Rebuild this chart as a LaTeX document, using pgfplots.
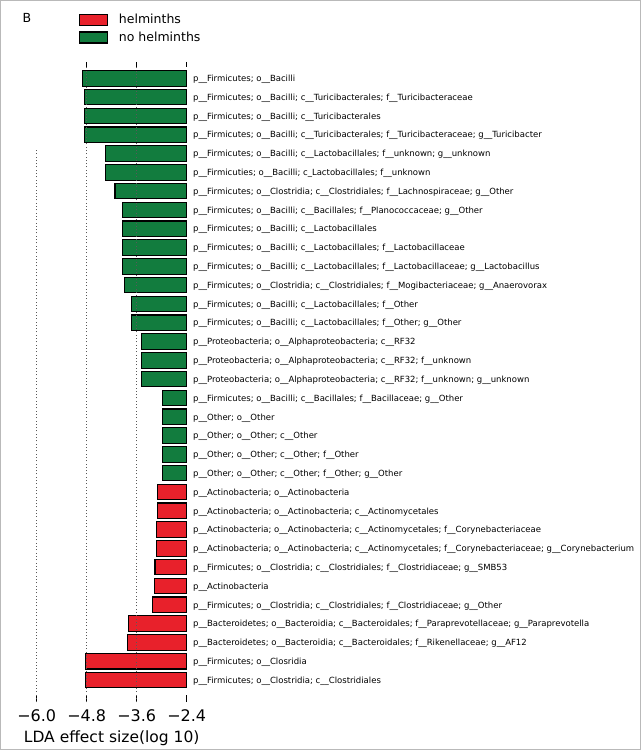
\documentclass[border=0pt]{standalone}
\usepackage{pgfplots}
\pgfplotsset{compat=1.18}
\usepackage{pgfplotstable}
\usepackage{fontspec}
\setmainfont{DejaVu Sans}
\usetikzlibrary{calc}
\definecolor{hred}{HTML}{E8212B}
\definecolor{hgreen}{HTML}{127C3E}

% LDA scores, bars numbered from the bottom (y=1) to the top (y=33)
\pgfplotstableread[col sep=comma]{
y,lda
12,-2.97
13,-2.98
14,-2.98
15,-2.98
16,-2.98
17,-3.49
18,-3.49
19,-3.49
20,-3.72
21,-3.72
22,-3.90
23,-3.93
24,-3.93
25,-3.94
26,-3.95
27,-4.12
28,-4.34
29,-4.34
30,-4.85
31,-4.85
32,-4.85
33,-4.90
}\nohelm

\pgfplotstableread[col sep=comma]{
y,lda
1,-4.82
2,-4.82
3,-3.83
4,-3.79
5,-3.23
6,-3.18
7,-3.16
8,-3.13
9,-3.13
10,-3.11
11,-3.09
}\helm

\tikzset{gridline/.style={black!65, line width=0.8pt, dash pattern=on 0.9pt off 2.4pt}}

\begin{document}
\begin{tikzpicture}
\begin{axis}[
    scale only axis,
    width=150pt, height=640pt,
    xmin=-3.6, xmax=0, ymin=-0.17, ymax=33.87,
    axis x line*=bottom, axis y line*=right,
    axis line style={draw=none},
    clip=false,
    tick align=inside,
    major tick length=7pt,
    xtick={-3.6,-2.4,-1.2,0},
    xticklabels={−6.0,−4.8,−3.6,−2.4},
    xtick style={black, line width=0.7pt},
    xticklabel style={font=\fontsize{16}{16}\selectfont, yshift=-4pt},
    xlabel={LDA effect size(log 10)},
    xlabel style={font=\fontsize{15.5}{16}\selectfont, yshift=-2pt},
    ytick={1,...,33},
    ytick style={draw=none},
    yticklabel style={anchor=west, inner sep=0pt, xshift=6.3pt, yshift=-1pt, font=\fontsize{8.5}{10}\selectfont},
    yticklabels={
      p\_\_Firmicutes; o\_\_Clostridia; c\_\_Clostridiales,
      p\_\_Firmicutes; o\_\_Closridia,
      p\_\_Bacteroidetes; o\_\_Bacteroidia; c\_\_Bacteroidales; f\_\_Rikenellaceae; g\_\_AF12,
      p\_\_Bacteroidetes; o\_\_Bacteroidia; c\_\_Bacteroidales; f\_\_Paraprevotellaceae; g\_\_Paraprevotella,
      p\_\_Firmicutes; o\_\_Clostridia; c\_\_Clostridiales; f\_\_Clostridiaceae; g\_\_Other,
      p\_\_Actinobacteria,
      p\_\_Firmicutes; o\_\_Clostridia; c\_\_Clostridiales; f\_\_Clostridiaceae; g\_\_SMB53,
      p\_\_Actinobacteria; o\_\_Actinobacteria; c\_\_Actinomycetales; f\_\_Corynebacteriaceae; g\_\_Corynebacterium,
      p\_\_Actinobacteria; o\_\_Actinobacteria; c\_\_Actinomycetales; f\_\_Corynebacteriaceae,
      p\_\_Actinobacteria; o\_\_Actinobacteria; c\_\_Actinomycetales,
      p\_\_Actinobacteria; o\_\_Actinobacteria,
      p\_\_Other; o\_\_Other; c\_\_Other; f\_\_Other; g\_\_Other,
      p\_\_Other; o\_\_Other; c\_\_Other; f\_\_Other,
      p\_\_Other; o\_\_Other; c\_\_Other,
      p\_\_Other; o\_\_Other,
      p\_\_Firmicutes; o\_\_Bacilli; c\_\_Bacillales; f\_\_Bacillaceae; g\_\_Other,
      p\_\_Proteobacteria; o\_\_Alphaproteobacteria; c\_\_RF32; f\_\_unknown; g\_\_unknown,
      p\_\_Proteobacteria; o\_\_Alphaproteobacteria; c\_\_RF32; f\_\_unknown,
      p\_\_Proteobacteria; o\_\_Alphaproteobacteria; c\_\_RF32,
      p\_\_Firmicutes; o\_\_Bacilli; c\_\_Lactobacillales; f\_\_Other; g\_\_Other,
      p\_\_Firmicutes; o\_\_Bacilli; c\_\_Lactobacillales; f\_\_Other,
      p\_\_Firmicutes; o\_\_Clostridia; c\_\_Clostridiales; f\_\_Mogibacteriaceae; g\_\_Anaerovorax,
      p\_\_Firmicutes; o\_\_Bacilli; c\_\_Lactobacillales; f\_\_Lactobacillaceae; g\_\_Lactobacillus,
      p\_\_Firmicutes; o\_\_Bacilli; c\_\_Lactobacillales; f\_\_Lactobacillaceae,
      p\_\_Firmicutes; o\_\_Bacilli; c\_\_Lactobacillales,
      p\_\_Firmicutes; o\_\_Bacilli; c\_\_Bacillales; f\_\_Planococcaceae; g\_\_Other,
      p\_\_Firmicutes; o\_\_Clostridia; c\_\_Clostridiales; f\_\_Lachnospiraceae; g\_\_Other,
      p\_\_Firmicuties; o\_\_Bacilli; c\_Lactobacillales; f\_\_unknown,
      p\_\_Firmicutes; o\_\_Bacilli; c\_\_Lactobacillales; f\_\_unknown; g\_\_unknown,
      p\_\_Firmicutes; o\_\_Bacilli; c\_\_Turicibacterales; f\_\_Turicibacteraceae; g\_\_Turicibacter,
      p\_\_Firmicutes; o\_\_Bacilli; c\_\_Turicibacterales,
      p\_\_Firmicutes; o\_\_Bacilli; c\_\_Turicibacterales; f\_\_Turicibacteraceae,
      p\_\_Firmicutes; o\_\_Bacilli
    },
    legend style={at={(0.282,1.0755)}, anchor=north west, draw=none, fill=none,
      inner sep=0pt, row sep=5.5pt, nodes={inner sep=0pt},
      font=\fontsize{12.5}{14}\selectfont},
    legend cell align=left,
]
% bars grow to the left from -2.4 (shifted to 0)
\addplot[xbar, bar width=15.5pt, bar shift=0pt, fill=hgreen, draw=black, line width=1.1pt, forget plot]
  table[x expr=\thisrow{lda}+2.4, y=y]{\nohelm};
\addplot[xbar, bar width=15.5pt, bar shift=0pt, fill=hred, draw=black, line width=1.1pt, forget plot]
  table[x expr=\thisrow{lda}+2.4, y=y]{\helm};

\addlegendimage{legend image code/.code={\draw[fill=hred, draw=black, line width=1.1pt] (0pt,-5.5pt) rectangle (28pt,5.5pt); \path (39pt,0pt);}}
\addlegendentry{helminths}
\addlegendimage{legend image code/.code={\draw[fill=hgreen, draw=black, line width=1.1pt] (0pt,-5.5pt) rectangle (28pt,5.5pt); \path (39pt,0pt);}}
\addlegendentry{no helminths}

% dotted grid, drawn over the bars
\draw[gridline] (axis cs:-2.4,-0.17) -- (axis cs:-2.4,33.87);
\draw[gridline] (axis cs:-1.2,-0.17) -- (axis cs:-1.2,33.87);
\draw[gridline] (axis cs:-3.6,-0.17) -- (axis cs:-3.6,29.17);
% short ticks along the top
\draw[black, line width=0.7pt] (axis cs:-2.4,33.87) -- ++(0pt,-5pt);
\draw[black, line width=0.7pt] (axis cs:-1.2,33.87) -- ++(0pt,-5pt);
\draw[black, line width=0.7pt] (axis cs:0,33.87) -- ++(0pt,-5pt);
\end{axis}

\node[font=\fontsize{12.5}{14}\selectfont] at ($(current axis.south west)+(-9.7pt,684pt)$) {B};

\pgfresetboundingbox
\path[use as bounding box] ($(current axis.south west)+(-36.7pt,-48pt)$) rectangle ($(current axis.south west)+(604.3pt,702pt)$);
\draw[gray!55, line width=1.2pt] ($(current axis.south west)+(-36.1pt,-47.4pt)$) rectangle ($(current axis.south west)+(603.7pt,701.4pt)$);
\end{tikzpicture}
\end{document}
